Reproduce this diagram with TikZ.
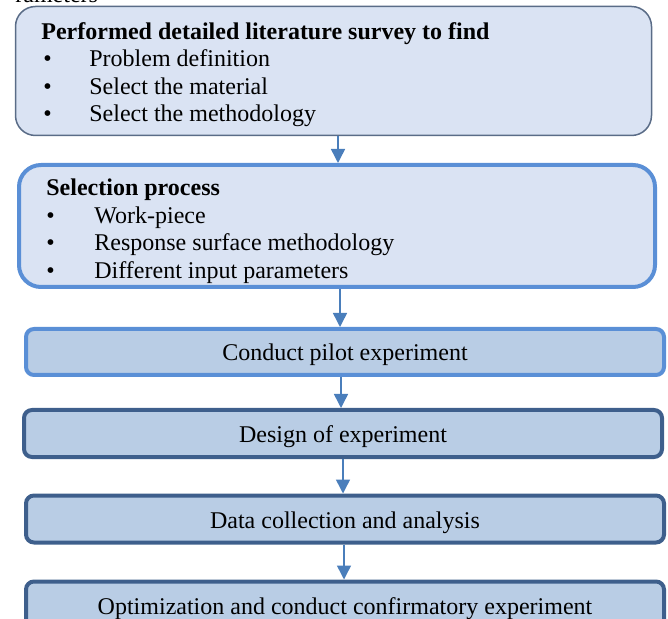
\documentclass[tikz,border=0pt]{standalone}
\usepackage{fontspec}
\setmainfont{Liberation Serif}
\usetikzlibrary{arrows.meta}
\definecolor{fillA}{HTML}{DAE3F3}
\definecolor{fillB}{HTML}{B9CDE5}
\definecolor{edgeA}{HTML}{5A6C87}
\definecolor{edgeB}{HTML}{5A8FD6}
\definecolor{edgeC}{HTML}{3E5F8C}
\definecolor{arrowc}{HTML}{4A7EBB}
\tikzset{
  bigA/.style={draw=edgeA, line width=0.75pt, fill=fillA, rounded corners=10pt, inner sep=0pt, minimum width=318pt, minimum height=64.5pt},
  bigB/.style={draw=edgeB, line width=2pt, fill=fillA, rounded corners=11pt, inner sep=0pt, minimum width=318pt, minimum height=61pt},
  stepA/.style={draw=edgeB, line width=2pt, fill=fillB, rounded corners=4pt, inner sep=0pt, minimum width=319pt, minimum height=23pt, text height=11.6pt, text depth=2.6pt},
  stepB/.style={draw=edgeC, line width=2pt, fill=fillB, rounded corners=4pt, inner sep=0pt, minimum width=319pt, minimum height=23.5pt, text height=11.6pt, text depth=2.6pt},
  txt/.style={anchor=base west, inner sep=0pt},
  conn/.style={draw=arrowc, line width=0.75pt, -{Triangle[width=7pt,length=7pt]}, arrowc}
}
\begin{document}
\begin{tikzpicture}[x=0.5pt,y=-0.5pt,font=\fontsize{12}{13.8}\selectfont]
\useasboundingbox (0,0) rectangle (668,619);
\node[txt] (cut) at (15,3) {rameters};
% boxes
\node[bigA] (b1) at (333.5,71) {};
\node[bigB] (b2) at (337,226) {};
\node[stepA] (b3) at (345,352) {Conduct pilot experiment};
\node[stepB] (b4) at (343,433.5) {Design of experiment};
\node[stepB] (b5) at (345,519) {Data collection and analysis};
\node[stepB] (b6) at (345,605) {Optimization and conduct confirmatory experiment};
% box 1 text
\node[txt] (t1) at (41,39.5) {\textbf{Performed detailed literature survey to find}};
\node[txt] (t1d1) at (43,67) {\textbullet};
\node[txt] (t1d2) at (43,94.5) {\textbullet};
\node[txt] (t1d3) at (43,122) {\textbullet};
\node[txt] (t1a) at (89,67) {Problem definition};
\node[txt] (t1b) at (89,94.5) {Select the material};
\node[txt] (t1c) at (89,122) {Select the methodology};
% box 2 text
\node[txt] (t2) at (46,196) {\textbf{Selection process}};
\node[txt] (t2d1) at (46,223.5) {\textbullet};
\node[txt] (t2d2) at (46,251) {\textbullet};
\node[txt] (t2d3) at (46,278.5) {\textbullet};
\node[txt] (t2a) at (94,223.5) {Work-piece};
\node[txt] (t2b) at (94,251) {Response surface methodology};
\node[txt] (t2c) at (94,278.5) {Different input parameters};
% connectors
\draw[conn] ([xshift=2.25pt]b1.south) -- ([xshift=0.5pt]b2.north);
\draw[conn] ([xshift=1.5pt]b2.south) -- ([xshift=-2.5pt]b3.north);
\draw[conn] ([xshift=-2pt]b3.south) -- ([xshift=-1pt]b4.north);
\draw[conn] (b4.south) -- ([xshift=-1pt]b5.north);
\draw[conn] ([xshift=-0.5pt]b5.south) -- ([xshift=-0.5pt]b6.north);
\end{tikzpicture}
\end{document}
